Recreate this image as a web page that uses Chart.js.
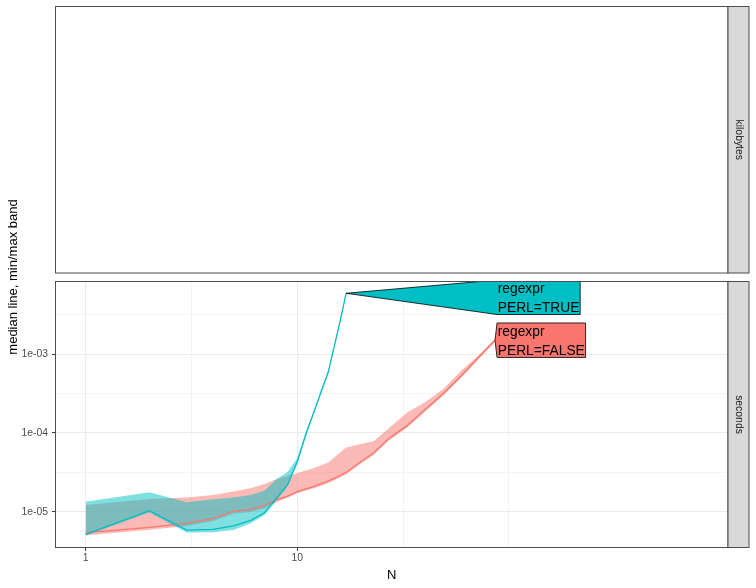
<!DOCTYPE html>
<html><head><meta charset="utf-8">
<script src="https://cdn.jsdelivr.net/npm/chart.js@4.4.1/dist/chart.umd.min.js"></script>
<style>html,body{margin:0;padding:0;background:#fff;}canvas{display:block;}</style>
</head><body>
<canvas id="c" width="756" height="588"></canvas>
<script>
// ---- data ----
const facetLabels = ['kilobytes', 'seconds'];
const seriesLabels = ['regexpr\nPERL=FALSE', 'regexpr\nPERL=TRUE'];

const falseN      = [1, 2, 3, 4, 5, 6, 7, 8, 9, 10, 12, 14, 17, 20, 23, 27, 33, 40, 49, 60, 72, 86];
const falseMedian = [5.41e-6, 6.34e-6, 7.1e-6, 8.2e-6, 1.02e-5, 1.06e-5, 1.2e-5, 1.42e-5, 1.58e-5, 1.8e-5,
                     2.1e-5, 2.45e-5, 3.15e-5, 4.35e-5, 5.62e-5, 8.47e-5, 1.24e-4, 1.96e-4, 3.18e-4, 5.45e-4, 9.16e-4, 1.51e-3];
const falseMin    = [5.0e-6, 5.9e-6, 6.6e-6, 7.6e-6, 9.4e-6, 9.9e-6, 1.1e-5, 1.33e-5, 1.5e-5, 1.72e-5,
                     1.98e-5, 2.3e-5, 2.97e-5, 4.1e-5, 5.3e-5, 8.0e-5, 1.17e-4, 1.85e-4, 3.0e-4, 5.15e-4, 8.7e-4, 1.44e-3];
const falseMax    = [1.22e-5, 1.45e-5, 1.52e-5, 1.63e-5, 1.8e-5, 1.98e-5, 2.25e-5, 2.6e-5, 2.84e-5, 3.1e-5,
                     3.59e-5, 4.22e-5, 6.55e-5, 7.24e-5, 7.91e-5, 1.14e-4, 1.82e-4, 2.44e-4, 3.62e-4, 6.31e-4, 9.8e-4, 1.58e-3];

const trueN       = [1, 2, 3, 4, 5, 6, 7, 8, 9, 10, 11, 12, 13, 14, 15, 16, 17];
const trueMedian  = [5.16e-6, 1.03e-5, 5.85e-6, 5.97e-6, 6.6e-6, 7.7e-6, 9.7e-6, 1.5e-5, 2.2e-5, 4.3e-5,
                     9.8e-5, 1.87e-4, 3.42e-4, 5.9e-4, 1.31e-3, 2.76e-3, 5.96e-3];
const trueMin     = [5.0e-6, 9.8e-6, 5.45e-6, 5.5e-6, 5.85e-6, 7.1e-6, 9.1e-6, 1.4e-5, 2.1e-5, 4.1e-5,
                     9.3e-5, 1.79e-4, 3.3e-4, 5.7e-4, 1.27e-3, 2.7e-3, 5.85e-3];
const trueMax     = [1.34e-5, 1.77e-5, 1.32e-5, 1.44e-5, 1.52e-5, 1.63e-5, 1.85e-5, 2.6e-5, 3.2e-5, 4.8e-5,
                     1.05e-4, 1.98e-4, 3.6e-4, 6.2e-4, 1.36e-3, 2.85e-3, 6.1e-3];

const xTickValues = [1, 10];
const xTickLabels = ['1', '10'];
const xMinorValues = [3.16228, 31.6228, 100];
const yTickValues = [1e-5, 1e-4, 1e-3];
const yTickLabels = ['1e-05', '1e-04', '1e-03'];
const yMinorValues = [3.16228e-5, 3.16228e-4, 3.16228e-3];

// ---- styling ----
const RED = '#F8766D', CYAN = '#00BFC4';
const FONT = '"Liberation Sans", Arial, sans-serif';

function pts(xs, ys) { return xs.map((x, i) => ({x: x, y: ys[i]})); }
function gridTicks(major, minor) {
  return major.map(v => ({value: v, minor: false}))
    .concat(minor.map(v => ({value: v, minor: true})))
    .sort((a, b) => a.value - b.value);
}
function labelFor(values, labels, v) {
  const i = values.findIndex(t => Math.abs(t - v) / t < 1e-6);
  return i >= 0 ? labels[i] : '';
}

const labelSeries = [
  {N: falseN, med: falseMedian, label: seriesLabels[0], color: RED},
  {N: trueN, med: trueMedian, label: seriesLabels[1], color: CYAN}
];

const facetPlugin = {
  id: 'facets',
  afterDatasetsDraw(chart) {
    const ctx = chart.ctx, a = chart.chartArea, xs = chart.scales.x, ys = chart.scales.y;
    ctx.save();
    ctx.beginPath();
    ctx.rect(a.left, a.top, a.right - a.left, a.bottom - a.top);
    ctx.clip();
    ctx.font = '13.8px ' + FONT;
    const items = labelSeries.map(s => ({
      tipX: xs.getPixelForValue(s.N[s.N.length - 1]),
      tipY: ys.getPixelForValue(s.med[s.med.length - 1]),
      lines: s.label.split('\n'),
      color: s.color
    }));
    const left = Math.max.apply(null, items.map(i => i.tipX)) + 2;
    items.forEach(it => {
      const w = Math.max.apply(null, it.lines.map(l => ctx.measureText(l).width)) + 1.5;
      const h = 34.5;
      let top = it.tipY - h / 2;
      if (top < a.top - 1.5) top = a.top - 1.5;
      ctx.beginPath();
      ctx.moveTo(it.tipX, it.tipY);
      ctx.lineTo(left, top);
      ctx.lineTo(left + w, top);
      ctx.lineTo(left + w, top + h);
      ctx.lineTo(left, top + h);
      ctx.closePath();
      ctx.fillStyle = it.color;
      ctx.fill();
      ctx.strokeStyle = '#000';
      ctx.lineWidth = 0.8;
      ctx.stroke();
      ctx.fillStyle = '#000';
      ctx.textAlign = 'left';
      ctx.textBaseline = 'alphabetic';
      ctx.fillText(it.lines[0], left + 0.7, top + 12.8);
      ctx.fillText(it.lines[1], left + 0.7, top + 32.3);
    });
    ctx.restore();
  },
  afterDraw(chart) {
    const ctx = chart.ctx, a = chart.chartArea;
    const topPanel = {t: 6.5, b: 273};
    const stripL = a.right, stripR = 749;
    ctx.save();
    ctx.strokeStyle = '#4d4d4d';
    ctx.lineWidth = 1;
    ctx.strokeRect(a.left, topPanel.t, a.right - a.left, topPanel.b - topPanel.t);
    ctx.strokeRect(a.left, a.top, a.right - a.left, a.bottom - a.top);
    const strips = [[topPanel.t, topPanel.b], [a.top, a.bottom]];
    strips.forEach((s, i) => {
      ctx.fillStyle = '#D9D9D9';
      ctx.fillRect(stripL, s[0], stripR - stripL, s[1] - s[0]);
      ctx.strokeRect(stripL, s[0], stripR - stripL, s[1] - s[0]);
      ctx.save();
      ctx.translate((stripL + stripR) / 2, (s[0] + s[1]) / 2);
      ctx.rotate(Math.PI / 2);
      ctx.fillStyle = '#1A1A1A';
      ctx.font = '10.4px ' + FONT;
      ctx.textAlign = 'center';
      ctx.textBaseline = 'middle';
      ctx.fillText(facetLabels[i], 0, 0);
      ctx.restore();
    });
    ctx.save();
    ctx.translate(16.5, (topPanel.t + a.bottom) / 2);
    ctx.rotate(-Math.PI / 2);
    ctx.fillStyle = '#000';
    ctx.font = '13px ' + FONT;
    ctx.textAlign = 'center';
    ctx.textBaseline = 'alphabetic';
    ctx.fillText('median line, min/max band', 0, 0);
    ctx.restore();
    ctx.fillStyle = '#000';
    ctx.font = '13px ' + FONT;
    ctx.textAlign = 'center';
    ctx.textBaseline = 'alphabetic';
    ctx.fillText('N', (a.left + a.right) / 2, 579);
    ctx.restore();
  }
};

const band = (data, fill, color, order) => ({
  data: data, fill: fill, backgroundColor: color, borderColor: 'rgba(0,0,0,0)',
  borderWidth: 0, pointRadius: 0, tension: 0, order: order
});

const gridOpts = {
  color: c => '#EBEBEB',
  lineWidth: c => (c.tick && c.tick.minor) ? 0.55 : 1.1,
  tickLength: 3.5,
  tickColor: c => (c.tick && c.tick.minor) ? 'rgba(0,0,0,0)' : '#333333',
  tickWidth: 1
};

new Chart(document.getElementById('c'), {
  type: 'line',
  data: {
    datasets: [
      band(pts(falseN, falseMax), '+1', 'rgba(248,118,109,0.5)', 3),
      band(pts(falseN, falseMin), false, 'rgba(0,0,0,0)', 3),
      band(pts(trueN, trueMax), '+1', 'rgba(0,191,196,0.5)', 2),
      band(pts(trueN, trueMin), false, 'rgba(0,0,0,0)', 2),
      {data: pts(falseN, falseMedian), borderColor: RED, borderWidth: 1.3, fill: false, pointRadius: 0, tension: 0, order: 1},
      {data: pts(trueN, trueMedian), borderColor: CYAN, borderWidth: 1.3, fill: false, pointRadius: 0, tension: 0, order: 0}
    ]
  },
  options: {
    responsive: false,
    animation: false,
    devicePixelRatio: 1,
    layout: {padding: {top: 281.5, right: 28, bottom: 0, left: 0}},
    plugins: {legend: {display: false}, tooltip: {enabled: false}},
    scales: {
      x: {
        type: 'logarithmic',
        bounds: 'data',
        min: 0.7201, max: 1084.9,
        afterBuildTicks: s => { s.ticks = gridTicks(xTickValues, xMinorValues); },
        afterFit: s => { s.height = 40.5; },
        ticks: {
          autoSkip: false, maxRotation: 0, padding: 1.3, color: '#4D4D4D',
          font: {family: FONT, size: 10.4},
          callback: v => labelFor(xTickValues, xTickLabels, v)
        },
        grid: gridOpts,
        border: {display: false}
      },
      y: {
        type: 'logarithmic',
        bounds: 'data',
        min: 3.51e-6, max: 8.41e-3,
        afterBuildTicks: s => { s.ticks = gridTicks(yTickValues, yMinorValues); },
        afterFit: s => { s.width = 55.5; },
        ticks: {
          autoSkip: false, padding: 4, color: '#4D4D4D',
          font: {family: FONT, size: 10.4},
          callback: v => labelFor(yTickValues, yTickLabels, v)
        },
        grid: gridOpts,
        border: {display: false}
      }
    }
  },
  plugins: [facetPlugin]
});
</script>
</body></html>
